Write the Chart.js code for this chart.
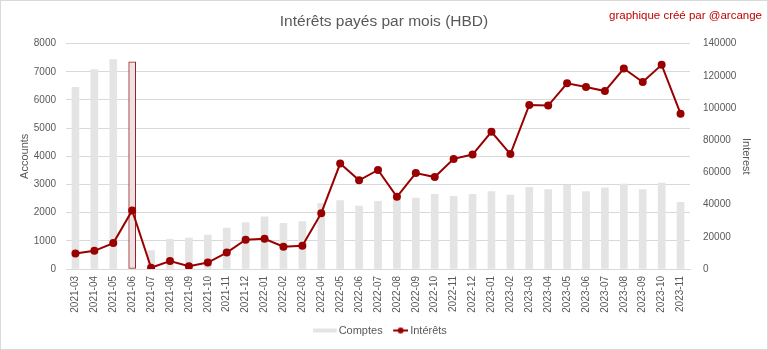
<!DOCTYPE html>
<html>
<head>
<meta charset="utf-8">
<title>Intérêts payés par mois (HBD)</title>
<script src="https://cdn.jsdelivr.net/npm/chart.js@4.4.0/dist/chart.umd.min.js"></script>
<style>
  html, body { margin: 0; padding: 0; background: #fff; }
  canvas { display: block; }
</style>
</head>
<body>
<canvas id="interestChart" width="768" height="350"></canvas>
<script>
// months shown on the x axis
const months = [
  "2021-03","2021-04","2021-05","2021-06","2021-07","2021-08","2021-09","2021-10","2021-11","2021-12",
  "2022-01","2022-02","2022-03","2022-04","2022-05","2022-06","2022-07","2022-08","2022-09","2022-10","2022-11","2022-12",
  "2023-01","2023-02","2023-03","2023-04","2023-05","2023-06","2023-07","2023-08","2023-09","2023-10","2023-11"
];

// number of accounts (left axis)
const comptes = [
  6450, 7080, 7430, 7350, 650, 1050, 1100, 1200, 1450, 1650,
  1850, 1620, 1680, 2330, 2430, 2230, 2400, 2500, 2520, 2650, 2580, 2650,
  2750, 2620, 2900, 2820, 2980, 2750, 2880, 3010, 2820, 3050, 2370
];

// interest paid in HBD (right axis)
const interets = [
  9600, 11300, 16100, 36400, 800, 5000, 1700, 4000, 10200, 18200,
  18800, 13800, 14400, 34700, 65500, 55100, 61500, 44800, 59600, 57100, 68400, 71100,
  85200, 71400, 101900, 101500, 115300, 113000, 110500, 124500, 116100, 126800, 96500
];

const highlightMonth = "2021-06";

const gray = "#595959";
const red = "#990000";
const font = "'Liberation Sans', Arial, sans-serif";

// little legend symbols (images are drawn centred on the legend box, so they are padded to sit next to the text)
function legendRect() {
  const c = document.createElement("canvas");
  c.width = 29; c.height = 6;
  const g = c.getContext("2d");
  g.fillStyle = "#e4e4e4";
  g.fillRect(0, 1, 24, 4);
  return c;
}
function legendLine() {
  const c = document.createElement("canvas");
  c.width = 19; c.height = 8;
  const g = c.getContext("2d");
  g.strokeStyle = red; g.lineWidth = 2;
  g.beginPath(); g.moveTo(4, 4); g.lineTo(19, 4); g.stroke();
  g.fillStyle = red;
  g.beginPath(); g.arc(11.5, 4, 3, 0, Math.PI * 2); g.fill();
  return c;
}

const extras = {
  id: "extras",
  beforeDraw(chart) {
    const ctx = chart.ctx;
    ctx.save();
    ctx.fillStyle = "#fff";
    ctx.fillRect(0, 0, chart.width, chart.height);
    ctx.restore();
  },
  afterDraw(chart) {
    const ctx = chart.ctx;
    ctx.save();
    ctx.font = "11.5px " + font;
    ctx.fillStyle = "#c00000";
    ctx.textAlign = "right";
    ctx.textBaseline = "middle";
    ctx.fillText("graphique créé par @arcange", 762, 16);
    ctx.strokeStyle = "#d9d9d9";
    ctx.lineWidth = 1;
    ctx.strokeRect(0.5, 0.5, chart.width - 1, chart.height - 1);
    ctx.restore();
  }
};

const barFill = months.map(m => m === highlightMonth ? "#ece4e4" : "#e4e4e4");
const barBorder = months.map(m => m === highlightMonth ? "#a01c1c" : "rgba(0,0,0,0)");
const barBorderW = months.map(m => m === highlightMonth ? 1 : 0);

new Chart(document.getElementById("interestChart"), {
  type: "bar",
  data: {
    labels: months,
    datasets: [
      {
        label: "Comptes",
        data: comptes,
        yAxisID: "y",
        backgroundColor: barFill,
        borderColor: barBorder,
        borderWidth: barBorderW,
        borderSkipped: false,
        barThickness: 7,
        order: 2
      },
      {
        type: "line",
        label: "Intérêts",
        data: interets,
        yAxisID: "y1",
        borderColor: red,
        backgroundColor: red,
        borderWidth: 2,
        pointRadius: 4,
        pointBackgroundColor: red,
        pointBorderWidth: 0,
        tension: 0,
        order: 1
      }
    ]
  },
  options: {
    responsive: false,
    animation: false,
    devicePixelRatio: 1,
    layout: { padding: { left: 0, right: 0, top: 0, bottom: 4 } },
    plugins: {
      title: {
        display: true,
        text: "Intérêts payés par mois (HBD)",
        color: gray,
        font: { family: font, size: 15.5, weight: "normal" },
        padding: { top: 12, bottom: 13 }
      },
      legend: {
        position: "bottom",
        labels: {
          color: gray,
          font: { family: font, size: 11 },
          usePointStyle: true,
          pointStyleWidth: 12,
          padding: 10,
          generateLabels(chart) {
            return chart.data.datasets.map((ds, i) => ({
              text: ds.label,
              datasetIndex: i,
              fontColor: gray,
              pointStyle: i === 0 ? legendRect() : legendLine(),
              hidden: !chart.isDatasetVisible(i),
              lineWidth: 0
            }));
          }
        }
      },
      tooltip: { enabled: false }
    },
    scales: {
      x: {
        grid: { display: false, drawTicks: false },
        border: { color: "#d9d9d9" },
        ticks: {
          color: gray,
          font: { family: font, size: 10 },
          minRotation: 90,
          maxRotation: 90,
          autoSkip: false,
          padding: 7
        },
        afterFit(scale) { scale.height = 46; }
      },
      y: {
        position: "left",
        min: 0,
        max: 8000,
        ticks: {
          stepSize: 1000,
          autoSkip: false,
          color: gray,
          font: { family: font, size: 10 },
          padding: 10,
          callback: v => String(v)
        },
        grid: { color: "#d9d9d9", drawTicks: false },
        border: { display: false },
        title: {
          display: true,
          text: "Accounts",
          color: gray,
          font: { family: font, size: 11 },
          padding: { top: 18 }
        },
        afterFit(scale) { scale.width = 66; }
      },
      y1: {
        position: "right",
        min: 0,
        max: 140000,
        ticks: {
          stepSize: 20000,
          autoSkip: false,
          color: gray,
          font: { family: font, size: 10 },
          padding: 13,
          callback: v => String(v)
        },
        grid: { display: false, drawTicks: false },
        border: { display: false },
        title: {
          display: true,
          text: "Interest",
          color: gray,
          font: { family: font, size: 11 },
          padding: { top: 15 }
        },
        afterFit(scale) { scale.width = 78; }
      }
    }
  },
  plugins: [extras]
});
</script>
</body>
</html>
